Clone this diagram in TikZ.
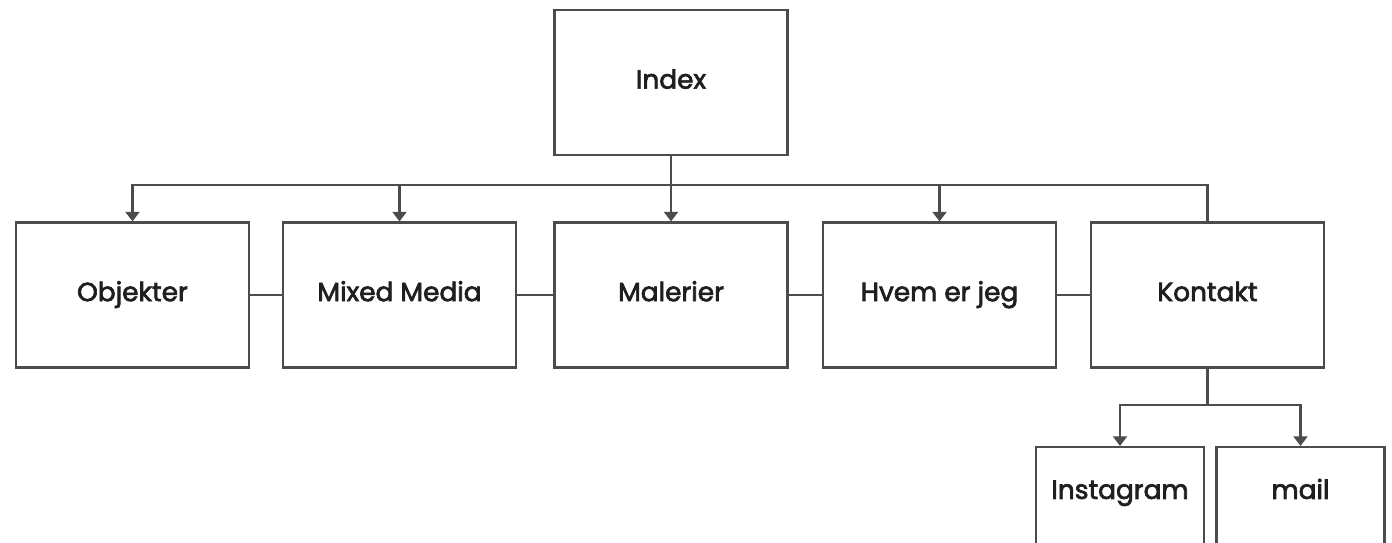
\documentclass[tikz,border=0pt]{standalone}
\usepackage{fontspec}
\setmainfont{Poppins}[FakeBold=2.6]
\usetikzlibrary{positioning,arrows.meta}

\begin{document}
\begin{tikzpicture}[
  every node/.style={font=\fontsize{15}{17}\selectfont, text=black!88},
  page/.style={draw=black!70, line width=1.2pt, minimum width=4.66cm,
               minimum height=2.9cm, inner sep=0pt, text height=0.7em,
               text depth=0pt},
  subpage/.style={page, minimum width=3.36cm, text depth=1.07cm},
  link/.style={draw=black!70, line width=1.2pt, line cap=rect},
  down/.style={link, line cap=butt, -{Triangle[length=5.5pt,width=8pt]}}
]
  \useasboundingbox (0,0) rectangle (27.84,-10.86);
  \clip (0,0) rectangle (27.84,-10.86);

  % --- Top page ---
  \node[page] (index) at (13.42, -1.65) {Index};

  % --- Main menu row ---
  \node[page] (objekter) at (2.65, -5.9)  {Objekter};
  \node[page] (mixed)    at (7.99, -5.9)  {Mixed Media};
  \node[page] (malerier) at (13.42, -5.9) {Malerier};
  \node[page] (hvem)     at (18.79, -5.9) {Hvem er jeg};
  \node[page] (kontakt)  at (24.15, -5.9) {Kontakt};

  % --- Sub pages of Kontakt (cut off at the bottom) ---
  \node[subpage] (instagram) at (22.4, -10.39)  {Instagram};
  \node[subpage] (mail)      at (26.01, -10.39) {mail};

  % --- Bus from Index to the menu ---
  \coordinate (busL) at (2.65, -3.7);
  \coordinate (busR) at (24.15, -3.7);
  \draw[link] (busL) -- (busR);
  \draw[link] (index) -- (index |- busL);
  \foreach \n in {objekter, mixed, malerier, hvem}
    \draw[down] (\n |- busL) -- (\n);
  \draw[link] (kontakt |- busR) -- (kontakt);

  % --- Links between neighbours ---
  \draw[link] (objekter) -- (mixed);
  \draw[link] (mixed) -- (malerier);
  \draw[link] (malerier) -- (hvem);
  \draw[link] (hvem) -- (kontakt);

  % --- Kontakt split ---
  \coordinate (split) at (24.15, -8.1);
  \draw[link] (kontakt) -- (split);
  \draw[link] (instagram |- split) -- (mail |- split);
  \draw[down] (instagram |- split) -- (instagram);
  \draw[down] (mail |- split) -- (mail);

\end{tikzpicture}
\end{document}
